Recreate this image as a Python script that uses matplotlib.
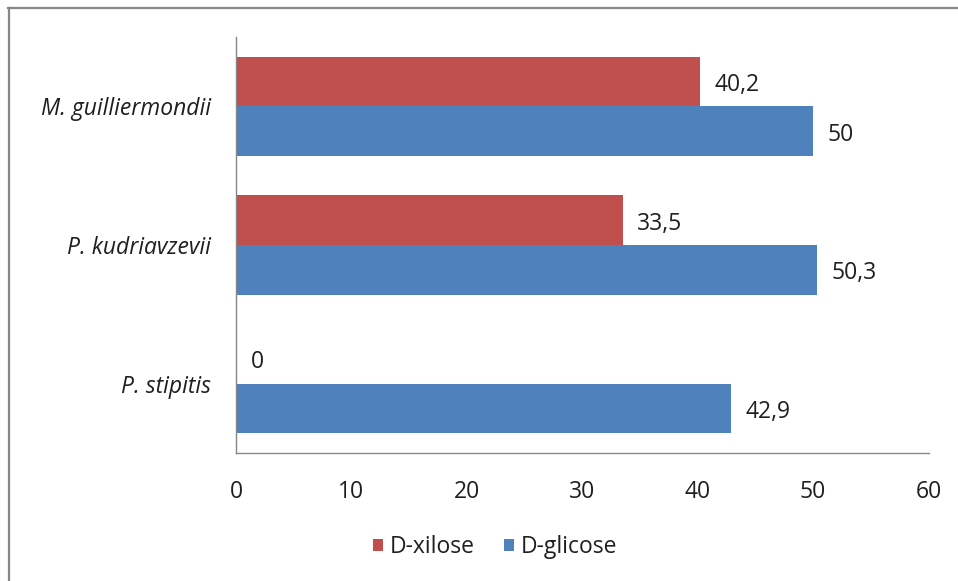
import matplotlib
matplotlib.use("Agg")
import matplotlib.pyplot as plt
from matplotlib.lines import Line2D
from matplotlib.patches import Patch
import numpy as np

plt.rcParams['font.family'] = ['Open Sans', 'DejaVu Sans']

# Data
species = ["P. stipitis", "P. kudriavzevii", "M. guilliermondii"]
xilose = [0, 33.5, 40.2]
glicose = [42.9, 50.3, 50]
series_names = ["D-xilose", "D-glicose"]
value_labels_x = ["0", "33,5", "40,2"]
value_labels_g = ["42,9", "50,3", "50"]
x_ticks = [0, 10, 20, 30, 40, 50, 60]

red = "#C0504D"
blue = "#4F81BD"
text_color = "#1f1f1f"
axis_color = "#868686"
fs = 16.5

fig = plt.figure(figsize=(9.58, 5.81), dpi=100)
ax = fig.add_axes([236 / 958, 1 - 453 / 581, (928.5 - 236) / 958, (453 - 37) / 581])

y = np.arange(len(species))
h = 0.358
ax.barh(y + h / 2, xilose, height=h, color=red, label=series_names[0])
ax.barh(y - h / 2, glicose, height=h, color=blue, label=series_names[1])

for yi, v, lab in zip(y, xilose, value_labels_x):
    ax.annotate(lab, (v, yi + h / 2), xytext=(10.5, -2.5), textcoords="offset points",
                va="center", ha="left", fontsize=fs, color=text_color)
for yi, v, lab in zip(y, glicose, value_labels_g):
    ax.annotate(lab, (v, yi - h / 2), xytext=(10.5, -2.5), textcoords="offset points",
                va="center", ha="left", fontsize=fs, color=text_color)

ax.set_xlim(0, 60)
ax.set_ylim(-0.5, 2.5)
ax.set_xticks(x_ticks)
ax.set_xticklabels([str(t) for t in x_ticks], fontsize=fs, color=text_color)
ax.set_yticks(y)
ax.set_yticklabels(species, fontsize=fs, style="italic", color=text_color)
ax.tick_params(axis="x", length=0, pad=19.5)
ax.tick_params(axis="y", length=0, pad=18)

for s in ["top", "right"]:
    ax.spines[s].set_visible(False)
for s in ["left", "bottom"]:
    ax.spines[s].set_color(axis_color)
    ax.spines[s].set_linewidth(1.0)

handles = [Patch(facecolor=red, label=series_names[0]),
           Patch(facecolor=blue, label=series_names[1])]
fig.legend(handles=handles, loc="center", bbox_to_anchor=(495 / 958, 1 - 547 / 581),
           ncol=2, frameon=False, fontsize=fs, handlelength=0.45, handleheight=0.45,
           handletextpad=0.3, columnspacing=1.25, labelcolor=text_color)

# Chart area border
fig.add_artist(Line2D([8 / 958, 1.0], [1 - 8 / 581, 1 - 8 / 581], color="#878787",
                      linewidth=1.6, transform=fig.transFigure))
fig.add_artist(Line2D([9 / 958, 9 / 958], [1 - 8 / 581, 0.0], color="#878787",
                      linewidth=1.6, transform=fig.transFigure))

fig.savefig("out.png", dpi=100)
